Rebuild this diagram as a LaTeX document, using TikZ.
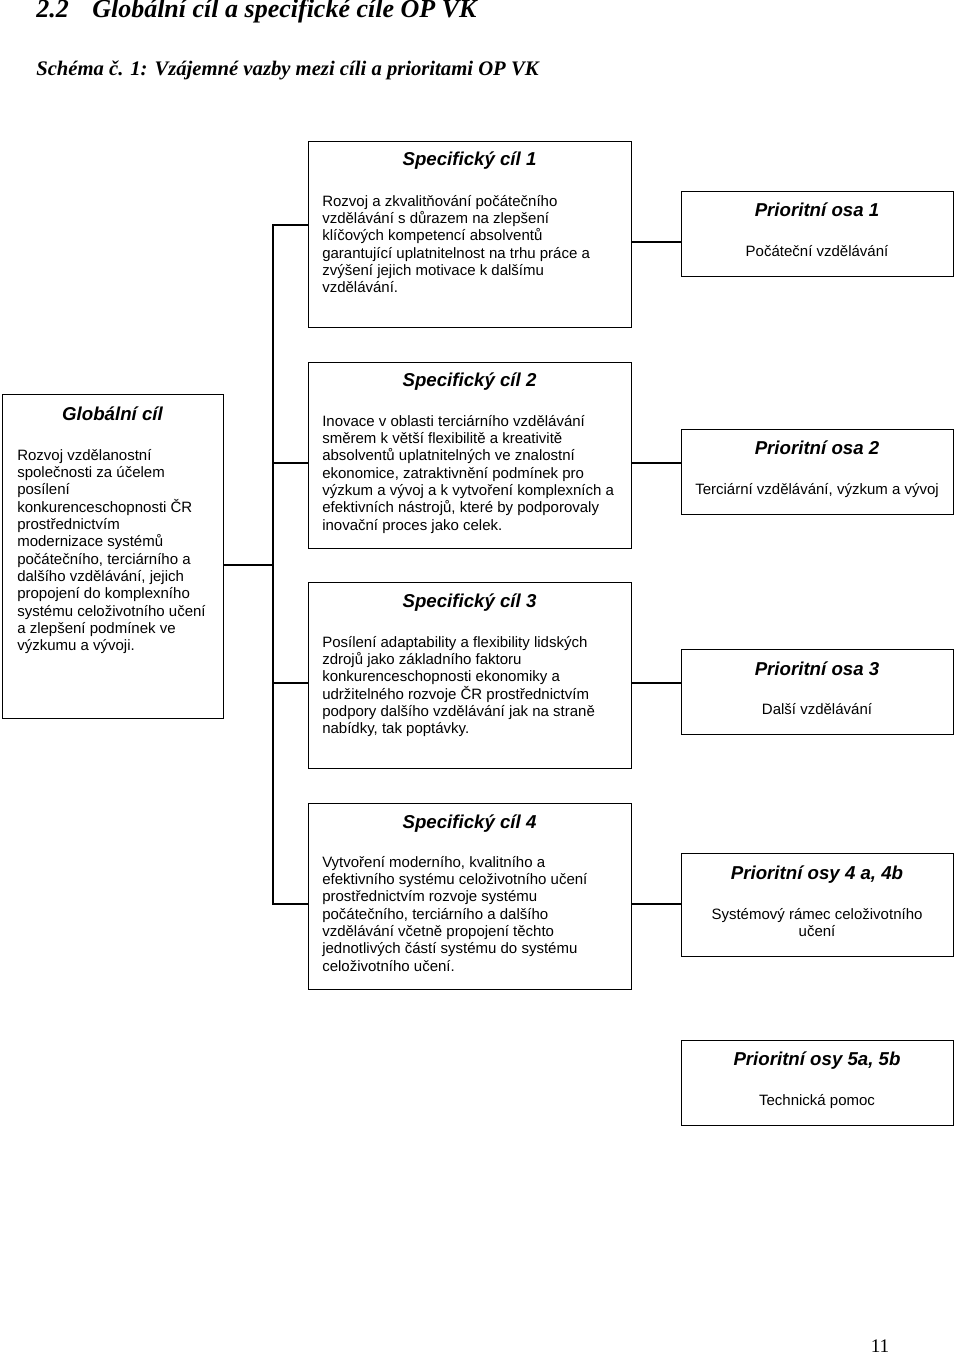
\documentclass[tikz,border=0pt]{standalone}
\usepackage{fontspec}
\setmainfont{Liberation Serif}
\newfontfamily\arialfont{Liberation Sans}
\newcommand{\bodyfont}{\arialfont\fontsize{11.25}{13}\selectfont}
\newcommand{\headfont}{\arialfont\bfseries\itshape\fontsize{14}{16}\selectfont}
\newcommand{\cilstrut}{\rule{0pt}{12pt}}

\begin{document}
\begin{tikzpicture}[x=0.75pt,y=-0.75pt,
    box/.style={draw,line width=1.1pt,fill=white,inner sep=0pt,anchor=north west},
    cilbox/.style={box,minimum width=242.25pt,minimum height=139.5pt},
    osabox/.style={box,minimum width=204pt,minimum height=63.75pt},
    head/.style={font=\headfont,anchor=base,inner sep=0pt},
    body/.style={font=\bodyfont,align=left,anchor=north west,inner sep=0pt},
    osatext/.style={font=\bodyfont,align=center,anchor=north,inner sep=0pt},
    nadpis/.style={font=\bfseries\itshape\fontsize{19.5}{22}\selectfont,anchor=base west,inner sep=0pt},
    link/.style={line width=1.1pt}]
        \useasboundingbox (0,0) rectangle (960,1355);

        \node[nadpis] (kapcislo) at (36,18) {2.2};
        \node[nadpis] (kapitola) at (92,18) {Globální cíl a specifické cíle OP VK};
        \node[font=\bfseries\itshape\fontsize{15.5}{18}\selectfont,anchor=base west,inner sep=0pt] (schema) at (36,76) {Schéma č. 1: Vzájemné vazby mezi cíli a prioritami OP VK};

        \node[box,minimum width=165.75pt,minimum height=243pt] (glob) at (2,394) {};
        \node[cilbox] (sc1) at (308,141) {};
        \node[cilbox] (sc2) at (308,362) {};
        \node[cilbox] (sc3) at (308,582) {};
        \node[cilbox] (sc4) at (308,803) {};
        \node[osabox] (po1) at (681,191) {};
        \node[osabox] (po2) at (681,429) {};
        \node[osabox] (po3) at (681,649) {};
        \node[osabox,minimum height=77.25pt] (po4) at (681,853) {};
        \node[osabox] (po5) at (681,1040) {};

        \node[head] (globhead) at (112.5,420) {Globální cíl};
        \node[body] (globtext) at (17,444) {\cilstrut Rozvoj vzdělanostní\\společnosti za účelem\\posílení\\konkurenceschopnosti ČR\\prostřednictvím\\modernizace systémů\\počátečního, terciárního a\\dalšího vzdělávání, jejich\\propojení do komplexního\\systému celoživotního učení\\a zlepšení podmínek ve\\výzkumu a vývoji.};

        \node[head] (sc1head) at (469.5,166) {Specifický cíl 1};
        \node[body] (sc1text) at (322,190) {\cilstrut Rozvoj a zkvalitňování počátečního\\vzdělávání s důrazem na zlepšení\\klíčových kompetencí absolventů\\garantující uplatnitelnost na trhu práce a\\zvýšení jejich motivace k dalšímu\\vzdělávání.};
        \node[head] (sc2head) at (469.5,386) {Specifický cíl 2};
        \node[body] (sc2text) at (322,410) {\cilstrut Inovace v oblasti terciárního vzdělávání\\směrem k větší flexibilitě a kreativitě\\absolventů uplatnitelných ve znalostní\\ekonomice, zatraktivnění podmínek pro\\výzkum a vývoj a k vytvoření komplexních a\\efektivních nástrojů, které by podporovaly\\inovační proces jako celek.};
        \node[head] (sc3head) at (469.5,607) {Specifický cíl 3};
        \node[body] (sc3text) at (322,631) {\cilstrut Posílení adaptability a flexibility lidských\\zdrojů jako základního faktoru\\konkurenceschopnosti ekonomiky a\\udržitelného rozvoje ČR prostřednictvím\\podpory dalšího vzdělávání jak na straně\\nabídky, tak poptávky.};
        \node[head] (sc4head) at (469.5,828) {Specifický cíl 4};
        \node[body] (sc4text) at (322,851) {\cilstrut Vytvoření moderního, kvalitního a\\efektivního systému celoživotního učení\\prostřednictvím rozvoje systému\\počátečního, terciárního a dalšího\\vzdělávání včetně propojení těchto\\jednotlivých částí systému do systému\\celoživotního učení.};

        \node[head] (po1head) at (817,217) {Prioritní osa 1};
        \node[osatext] (po1text) at (817,240) {\cilstrut Počáteční vzdělávání};
        \node[head] (po2head) at (817,454) {Prioritní osa 2};
        \node[osatext] (po2text) at (817,478) {\cilstrut Terciární vzdělávání, výzkum a vývoj};
        \node[head] (po3head) at (817,675) {Prioritní osa 3};
        \node[osatext] (po3text) at (817,698) {\cilstrut Další vzdělávání};
        \node[head] (po4head) at (817,879) {Prioritní osy 4 a, 4b};
        \node[osatext] (po4text) at (817,903) {\cilstrut Systémový rámec celoživotního\\učení};
        \node[head] (po5head) at (817,1065) {Prioritní osy 5a, 5b};
        \node[osatext] (po5text) at (817,1089) {\cilstrut Technická pomoc};

        \node[font=\fontsize{14.4}{16}\selectfont,anchor=base,inner sep=0pt] (strana) at (880,1352) {11};

        \coordinate (kmentop) at (273,225);
        \coordinate (kmenbot) at (273,904);
        \coordinate (jglob) at (273,565);
        \coordinate (j2) at (273,463);
        \coordinate (j3) at (273,683);

        \draw[link] (sc1.west |- kmentop) -- (kmentop) -- (kmenbot) -- (sc4.west |- kmenbot);
        \draw[link] (glob.east |- jglob) -- (jglob);
        \draw[link] (j2) -- (sc2.west |- j2);
        \draw[link] (j3) -- (sc3.west |- j3);
        \draw[link] (sc1.east |- 0,242) -- (po1.west |- 0,242);
        \draw[link] (sc2.east |- j2) -- (po2.west |- j2);
        \draw[link] (sc3.east |- j3) -- (po3.west |- j3);
        \draw[link] (sc4.east |- kmenbot) -- (po4.west |- kmenbot);
    \end{tikzpicture}
\end{document}
